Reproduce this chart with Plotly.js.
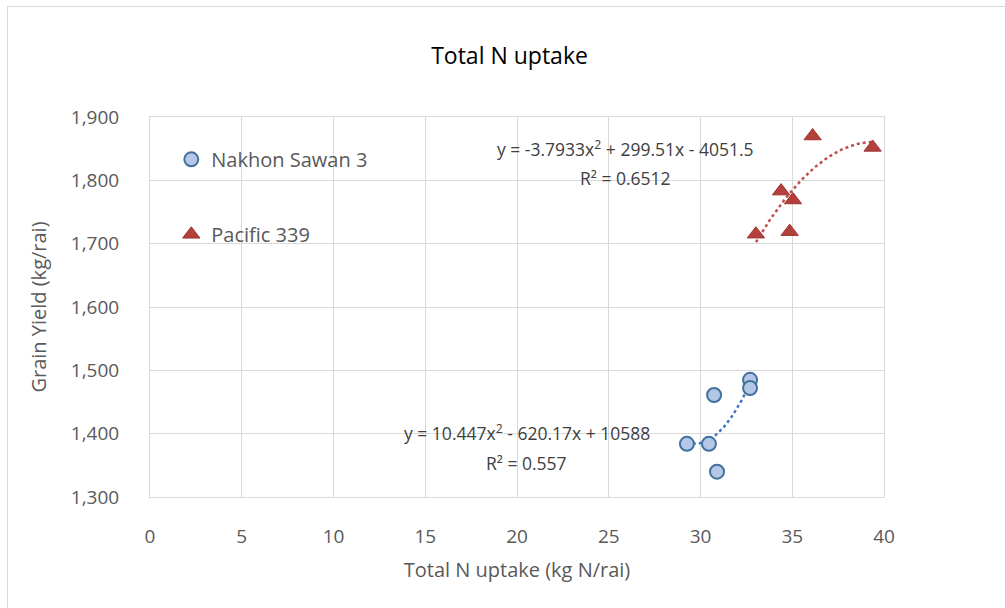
<!DOCTYPE html>
<html>
<head>
<meta charset="utf-8">
<script src="https://cdn.plot.ly/plotly-3.0.1.min.js"></script>
<style>
  html, body { margin: 0; padding: 0; background: #ffffff; }
  #wrap { position: relative; width: 1005px; height: 608px; overflow: hidden; }
  #chart { position: absolute; left: 0; top: 0; width: 1005px; height: 608px; }
  #frame { position: absolute; left: 7px; top: 6px; width: 1010px; height: 620px;
           border-left: 1px solid #d9d9d9; border-top: 1px solid #d9d9d9; pointer-events: none; }
</style>
</head>
<body>
<div id="wrap">
  <div id="chart"></div>
  <div id="frame"></div>
</div>
<script>
// ---- data ----
const nsNUptake = [29.26, 30.46, 30.74, 30.90, 32.70, 32.70];
const nsYield   = [1384, 1384, 1461, 1340, 1485, 1472];
const pcNUptake = [33.02, 34.39, 34.86, 35.04, 36.11, 39.38];
const pcYield   = [1715, 1783, 1719, 1769, 1870, 1852];

// polynomial trendline coefficients as printed on the chart [a, b, c] for a*x^2 + b*x + c
const nsTrendCoef = [10.447, -620.17, 10588];
const pcTrendCoef = [-3.7933, 299.51, -4051.5];

const seriesNames = ['Nakhon Sawan 3', 'Pacific 339'];
const eqLabels = ['y = 10.447x<sup>2</sup> - 620.17x + 10588', 'y = -3.7933x<sup>2</sup> + 299.51x - 4051.5'];
const r2Labels = ['R² = 0.557', 'R² = 0.6512'];
const xTicks = [0, 5, 10, 15, 20, 25, 30, 35, 40];
const yTicks = [1300, 1400, 1500, 1600, 1700, 1800, 1900];

// trendline curve sampled across the data range using the chart's printed equation
function trend(coef, xs) {
  const lo = Math.min(...xs), hi = Math.max(...xs);
  const n = 60, tx = [], ty = [];
  for (let i = 0; i <= n; i++) {
    const x = lo + (hi - lo) * i / n;
    tx.push(x); ty.push(coef[0] * x * x + coef[1] * x + coef[2]);
  }
  return { x: tx, y: ty };
}
const nsT = trend(nsTrendCoef, nsNUptake);
const pcT = trend(pcTrendCoef, pcNUptake);

const FONT = '"Open Sans", "Noto Sans", sans-serif';
const BLUE_LINE = '#4472c4', RED_LINE = '#c0504d';

const traces = [
  { x: nsT.x, y: nsT.y, mode: 'lines', showlegend: false, hoverinfo: 'skip',
    line: { color: BLUE_LINE, width: 2.5, dash: 'dot' } },
  { x: pcT.x, y: pcT.y, mode: 'lines', showlegend: false, hoverinfo: 'skip',
    line: { color: RED_LINE, width: 2.5, dash: 'dot' } },
  { x: nsNUptake, y: nsYield, mode: 'markers', type: 'scatter', name: seriesNames[0], legendgroup: 'a',
    marker: { symbol: 'circle', size: 14, color: '#b4c7e7', line: { color: '#41719c', width: 2 } } },
  { x: pcNUptake, y: pcYield, mode: 'markers', type: 'scatter', name: seriesNames[1], legendgroup: 'b',
    marker: { symbol: 'triangle-up', size: 15, color: '#b3403d', line: { color: '#9e3330', width: 1 } } }
];

const layout = {
  width: 1005, height: 608,
  margin: { l: 150, r: 121, t: 117, b: 111 },
  paper_bgcolor: 'rgba(0,0,0,0)', plot_bgcolor: '#ffffff',
  font: { family: FONT, color: '#595959', size: 19 },
  title: { text: 'Total N uptake', font: { family: FONT, size: 23, color: '#000000' },
           x: 0.507, xanchor: 'center', y: 0.908, yanchor: 'middle' },
  xaxis: {
    range: [0, 40], tickvals: xTicks, ticktext: xTicks.map(String),
    showgrid: true, gridcolor: '#d9d9d9', gridwidth: 1,
    showline: true, linecolor: '#d9d9d9', mirror: true, zeroline: false,
    ticks: '', ticklabelstandoff: 22, tickfont: { size: 19, color: '#595959' },
    title: { text: 'Total N uptake (kg N/rai)', font: { size: 20, color: '#595959' }, standoff: 15 }
  },
  yaxis: {
    range: [1300, 1900], tickvals: yTicks, ticktext: yTicks.map(v => v.toLocaleString('en-US')),
    showgrid: true, gridcolor: '#d9d9d9', gridwidth: 1,
    showline: true, linecolor: '#d9d9d9', mirror: true, zeroline: false,
    ticks: '', ticklabelstandoff: 26, tickfont: { size: 19, color: '#595959' },
    title: { text: 'Grain Yield (kg/rai)', font: { size: 20, color: '#595959' }, standoff: 18 }
  },
  legend: {
    x: 0.029, y: 0.94, xanchor: 'left', yanchor: 'top',
    bgcolor: 'rgba(0,0,0,0)', borderwidth: 0,
    font: { size: 20, color: '#595959' },
    traceorder: 'grouped', tracegroupgap: 46
  },
  annotations: [
    { xref: 'paper', yref: 'paper', x: (527 - 150) / 734, y: (497 - 432) / 380, text: eqLabels[0],
      showarrow: false, xanchor: 'center', yanchor: 'middle', font: { size: 17.5, color: '#404040' } },
    { xref: 'paper', yref: 'paper', x: (526 - 150) / 734, y: (497 - 463) / 380, text: r2Labels[0],
      showarrow: false, xanchor: 'center', yanchor: 'middle', font: { size: 17.5, color: '#404040' } },
    { xref: 'paper', yref: 'paper', x: (625 - 150) / 734, y: (497 - 148) / 380, text: eqLabels[1],
      showarrow: false, xanchor: 'center', yanchor: 'middle', font: { size: 17.5, color: '#404040' } },
    { xref: 'paper', yref: 'paper', x: (625 - 150) / 734, y: (497 - 178) / 380, text: r2Labels[1],
      showarrow: false, xanchor: 'center', yanchor: 'middle', font: { size: 17.5, color: '#404040' } }
  ]
};

Plotly.newPlot('chart', traces, layout, { displayModeBar: false, staticPlot: true });
</script>
</body>
</html>
